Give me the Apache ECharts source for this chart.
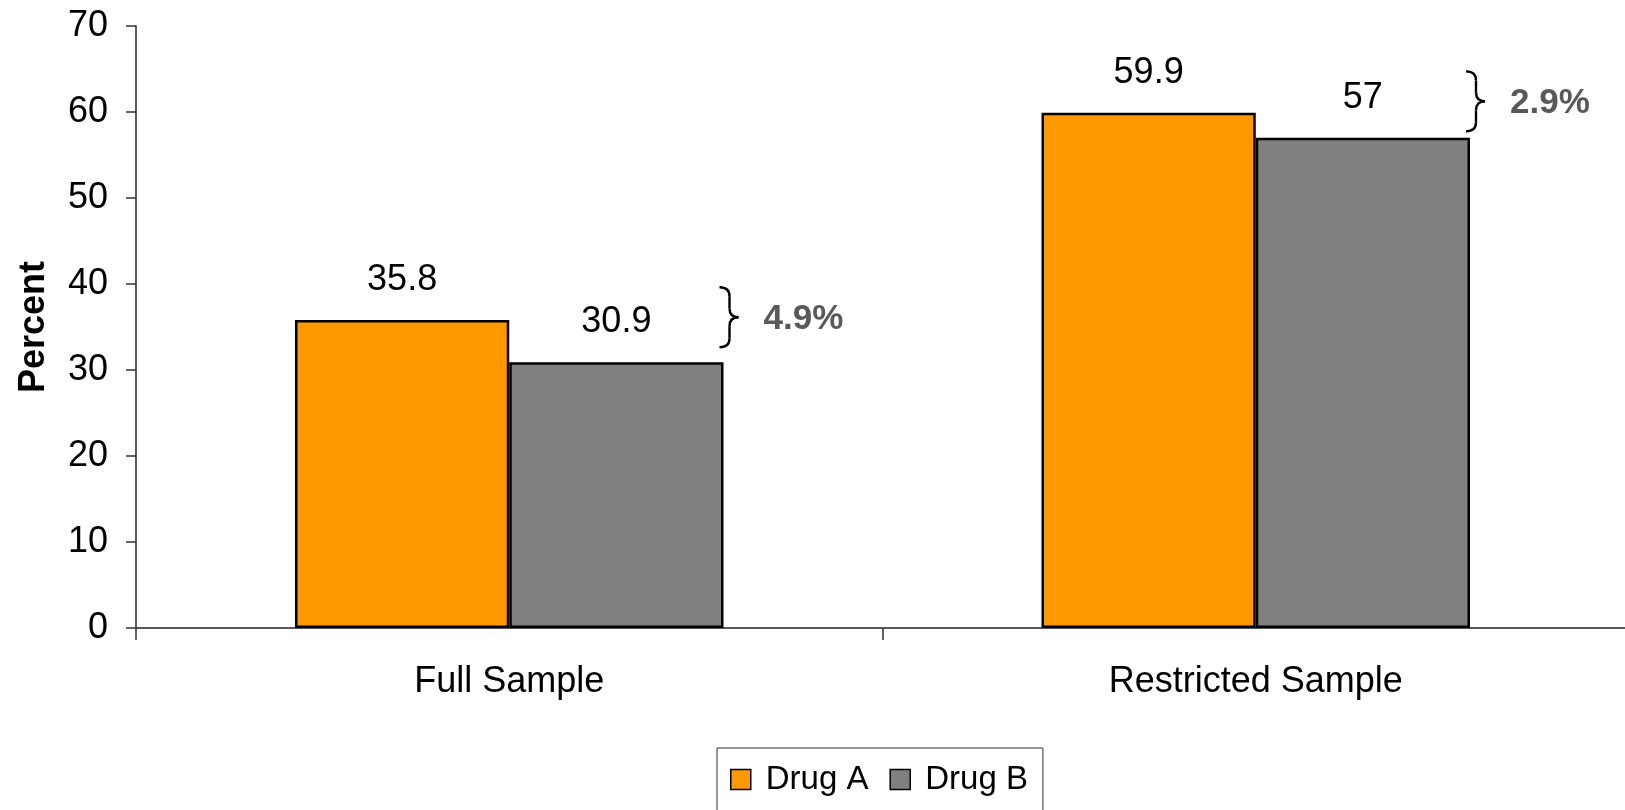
<!DOCTYPE html>
<html>
<head>
<meta charset="utf-8">
<title>Drug A vs Drug B</title>
<script src="https://cdn.jsdelivr.net/npm/echarts@6/dist/echarts.min.js"></script>
<style>
  html, body { margin: 0; padding: 0; background: #fff; }
  #chart { width: 1625px; height: 810px; }
</style>
</head>
<body>
<div id="chart"></div>
<script>
// Share of patients (percent) for each sample
const categories = ['Full Sample', 'Restricted Sample'];
const drugA = [35.8, 59.9];
const drugB = [30.9, 57];
const seriesNames = ['Drug A', 'Drug B'];
const yTicks = { min: 0, max: 70, interval: 10 };

const FONT = 'Arial, "Liberation Sans", Helvetica, sans-serif';
const BAR_RATIO = 0.287; // bar width as a share of one category band

// Differences between the two drugs, drawn as a brace with a bold label
const gaps = categories.map((c, i) => [i, drugA[i], drugB[i]]);

function renderBrace(params, api) {
  const idx = api.value(0);
  const a = api.value(1);
  const b = api.value(2);
  const mid = api.coord([idx, (a + b) / 2]);
  const band = api.size([1, 0])[0];
  const edge = mid[0] + band * BAR_RATIO;   // right edge of the Drug B bar
  const cy = mid[1] - 24;
  const half = 30, r = 9;
  const ex = edge - 4, sx = edge + 6, tx = edge + 15;
  const top = cy - half, bot = cy + half;
  const stroke = { stroke: '#000', lineWidth: 2.4, fill: null };
  const diff = (a - b).toFixed(1) + '%';
  return {
    type: 'group',
    children: [
      { type: 'bezierCurve', shape: { x1: ex, y1: top, cpx1: sx, cpy1: top, x2: sx, y2: top + r }, style: stroke },
      { type: 'line', shape: { x1: sx, y1: top + r, x2: sx, y2: cy - r }, style: stroke },
      { type: 'bezierCurve', shape: { x1: sx, y1: cy - r, cpx1: sx, cpy1: cy, x2: tx, y2: cy }, style: stroke },
      { type: 'bezierCurve', shape: { x1: tx, y1: cy, cpx1: sx, cpy1: cy, x2: sx, y2: cy + r }, style: stroke },
      { type: 'line', shape: { x1: sx, y1: cy + r, x2: sx, y2: bot - r }, style: stroke },
      { type: 'bezierCurve', shape: { x1: sx, y1: bot - r, cpx1: sx, cpy1: bot, x2: ex, y2: bot }, style: stroke },
      {
        type: 'text',
        style: {
          x: edge + 40, y: cy + 2, text: diff,
          fill: '#595959', font: 'bold 35px ' + FONT,
          textAlign: 'left', textVerticalAlign: 'middle'
        }
      }
    ]
  };
}

const chart = echarts.init(document.getElementById('chart'), null, { renderer: 'canvas' });

const barLabel = {
  show: true, position: 'top', distance: 22,
  color: '#000', fontSize: 36, fontFamily: FONT
};

chart.setOption({
  animation: false,
  backgroundColor: '#fff',
  textStyle: { fontFamily: FONT },
  grid: { left: 136, right: -4, top: 26, bottom: 182, containLabel: false, outerBoundsMode: 'none' },
  legend: {
    data: seriesNames,
    left: 717, top: 748,
    orient: 'horizontal',
    icon: 'rect',
    itemWidth: 20, itemHeight: 20, itemGap: 21,
    padding: [15, 15, 40, 13],
    borderColor: '#333', borderWidth: 1,
    textStyle: { color: '#000', fontSize: 33, fontFamily: FONT, padding: [0, 0, 0, 10] },
    itemStyle: { borderColor: '#000', borderWidth: 1.5 }
  },
  xAxis: {
    type: 'category',
    data: categories,
    boundaryGap: true,
    axisLine: { lineStyle: { color: '#222', width: 1.5 } },
    axisTick: { show: true, length: 12, alignWithLabel: false, lineStyle: { color: '#333', width: 1.5 } },
    axisLabel: { color: '#000', fontSize: 36, fontFamily: FONT, margin: 36 },
    splitLine: { show: false }
  },
  yAxis: {
    type: 'value',
    min: yTicks.min, max: yTicks.max, interval: yTicks.interval,
    name: 'Percent',
    nameLocation: 'middle',
    nameRotate: 90,
    nameGap: 84,
    nameTextStyle: { color: '#000', fontSize: 36, fontWeight: 'bold', fontFamily: FONT },
    axisLine: { show: true, lineStyle: { color: '#222', width: 1.5 } },
    axisTick: { show: true, length: 10, lineStyle: { color: '#333', width: 1.5 } },
    axisLabel: { color: '#000', fontSize: 36, fontFamily: FONT, margin: 28 },
    splitLine: { show: false }
  },
  series: [
    {
      name: seriesNames[0], type: 'bar', data: drugA,
      barWidth: (BAR_RATIO * 100) + '%', barGap: '0%',
      itemStyle: { color: '#FF9900', borderColor: '#000', borderWidth: 2.5 },
      label: barLabel
    },
    {
      name: seriesNames[1], type: 'bar', data: drugB,
      barWidth: (BAR_RATIO * 100) + '%', barGap: '0%',
      itemStyle: { color: '#808080', borderColor: '#000', borderWidth: 2.5 },
      label: barLabel
    },
    {
      name: 'gap', type: 'custom', data: gaps,
      renderItem: renderBrace, silent: true, z: 5,
      encode: { x: 0, y: 1 }
    }
  ]
});
</script>
</body>
</html>
